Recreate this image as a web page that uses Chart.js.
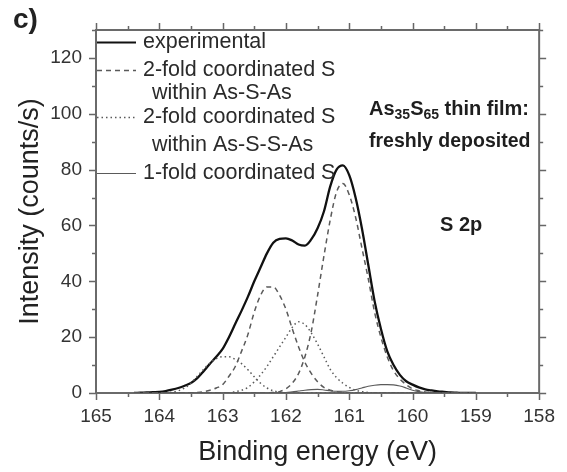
<!DOCTYPE html>
<html>
<head>
<meta charset="utf-8">
<script src="https://cdn.jsdelivr.net/npm/chart.js@4.4.0/dist/chart.umd.min.js"></script>
<style>
  html, body { margin: 0; padding: 0; background: #ffffff; }
  #c { display: block; }
</style>
</head>
<body>
<canvas id="c" width="567" height="472"></canvas>
<script>
// ---- Data ----
const energy = [164.4,164.3,164.2,164.1,164.0,163.9,163.8,163.7,163.6,163.5,163.4,163.3,163.2,163.1,163.0,162.9,162.8,162.7,162.6,162.5,162.4,162.3,162.2,162.1,162.0,161.9,161.8,161.7,161.6,161.5,161.4,161.3,161.2,161.1,161.0,160.9,160.8,160.7,160.6,160.5,160.4,160.3,160.2,160.1,160.0,159.9,159.8,159.7,159.6,159.5,159.4,159.3,159.2,159.1,159.0];

const experimental = [0,0.1,0.2,0.3,0.4,0.7,1.2,1.8,2.6,3.6,5.3,7.8,10.5,13,15.8,20,24.8,29.5,34.5,40,45,50,53.8,55.2,55.4,54.6,53.2,52.8,55,59,65,74,80,81.5,78,70,59,46,33,23,15,10,6.5,4.2,3,2,1.3,0.9,0.6,0.4,0.2,0.1,0,0,0];

// 2-fold coordinated S within As-S-As (dashed doublet)
const asSAsHigh = [0,0,0,0,0,0,0,0,0,0,0.2,0.5,1,1.8,3,6,9.5,15,21,29,35,38,38,35,30,23,16.5,11,7,4,2,1,0.5,0.2,0,0,0,0,0,0,0,0,0,0,0,0,0,0,0,0,0,0,0,0,0];
const asSAsLow  = [0,0,0,0,0,0,0,0,0,0,0,0,0,0,0,0,0,0,0,0,0,0,0.2,0.5,1.5,3.5,7,13,22,35,49,62,72,75,71,63,52,41,29,20,13,8,5,3,1.5,0.8,0.4,0.2,0,0,0,0,0,0,0];

// 2-fold coordinated S within As-S-S-As (dotted doublet)
const asSSAsHigh = [0,0,0,0,0,0,0.3,0.8,1.8,3.5,6,8.5,10.8,12.3,13,13,12,10.5,8.3,5.8,3.5,1.8,0.8,0.3,0,0,0,0,0,0,0,0,0,0,0,0,0,0,0,0,0,0,0,0,0,0,0,0,0,0,0,0,0,0,0];
const asSSAsLow  = [0,0,0,0,0,0,0,0,0,0,0,0,0,0,0,0,0.5,1,2,4,6.5,9.5,13,16.5,20,23.5,25.5,24.5,21.5,17.5,13,8.5,5.5,3.5,2,1,0.5,0.2,0,0,0,0,0,0,0,0,0,0,0,0,0,0,0,0,0];

// 1-fold coordinated S (thin solid)
const oneFold = [0,0,0,0,0,0,0,0,0,0,0,0,0,0,0,0,0,0,0,0,0,0,0,0,0.2,0.4,0.7,1,1.2,1.3,1.1,0.8,0.6,0.6,0.8,1.2,1.8,2.4,2.8,3,3,2.9,2.5,1.8,1,0.5,0.2,0,0,0,0,0,0,0,0];

const xTickValues = [165,164,163,162,161,160,159,158];
const yTickValues = [0,20,40,60,80,100,120];

const legendLabels = [
  ['experimental'],
  ['2-fold coordinated S', 'within As-S-As'],
  ['2-fold coordinated S', 'within As-S-S-As'],
  ['1-fold coordinated S']
];

// ---- Helpers ----
const FONT = '"Liberation Sans", Arial, Helvetica, sans-serif';
const pts = arr => energy.map((e, i) => ({ x: e, y: arr[i] }));
const COMP = '#5a5a5a';

const datasets = [
  { data: pts(asSAsHigh),  borderColor: COMP, borderWidth: 1.5, borderDash: [5, 4] },
  { data: pts(asSAsLow),   borderColor: COMP, borderWidth: 1.5, borderDash: [5, 4] },
  { data: pts(asSSAsHigh), borderColor: COMP, borderWidth: 1.5, borderDash: [1.5, 3] },
  { data: pts(asSSAsLow),  borderColor: COMP, borderWidth: 1.5, borderDash: [1.5, 3] },
  { data: pts(oneFold),    borderColor: COMP, borderWidth: 1.1 },
  { data: pts(experimental), borderColor: '#111', borderWidth: 2.3 }
].map(d => Object.assign({ pointRadius: 0, tension: 0.35, fill: false, cubicInterpolationMode: 'monotone' }, d));

const frame = {
  id: 'frame',
  beforeDatasetsDraw(chart) {
    const { ctx, chartArea: a, scales: { x, y } } = chart;
    ctx.save();
    ctx.strokeStyle = '#666';
    ctx.lineWidth = 1.5;
    ctx.beginPath();
    for (let v = 158; v <= 165.001; v += 0.5) {
      const px = Math.round(x.getPixelForValue(v)) + 0.5;
      const len = Math.abs(v - Math.round(v)) < 1e-6 ? 7 : 4;
      ctx.moveTo(px, a.bottom); ctx.lineTo(px, a.bottom + len);
      ctx.moveTo(px, a.top); ctx.lineTo(px, a.top - len);
    }
    for (let v = 0; v <= 130; v += 10) {
      const py = Math.round(y.getPixelForValue(v)) + 0.5;
      const len = v % 20 === 0 ? 7 : 4;
      ctx.moveTo(a.left, py); ctx.lineTo(a.left - len, py);
      ctx.moveTo(a.right, py); ctx.lineTo(a.right + len, py);
    }
    ctx.stroke();
    ctx.lineWidth = 2;
    ctx.strokeStyle = '#6a6a6a';
    ctx.strokeRect(a.left, a.top, a.right - a.left, a.bottom - a.top);
    ctx.restore();
  },
  afterDraw(chart) {
    const { ctx, chartArea: a } = chart;
    ctx.save();
    // panel letter
    ctx.fillStyle = '#222';
    ctx.textBaseline = 'middle';
    ctx.textAlign = 'left';
    ctx.font = 'bold 28px ' + FONT;
    ctx.fillText('c)', 13, 20);

    // legend
    const rows = [12, 40, 63, 87, 115, 143];
    const styles = [
      { c: '#111', w: 2, d: [] },
      { c: COMP, w: 1.5, d: [5, 4] },
      { c: COMP, w: 1.5, d: [1.5, 3] },
      { c: COMP, w: 1.1, d: [] }
    ];
    const sampleRows = [0, 1, 3, 5];
    ctx.font = '21.5px ' + FONT;
    ctx.fillStyle = '#2a2a2a';
    legendLabels.forEach((lines, i) => {
      const yy = a.top + rows[sampleRows[i]];
      ctx.save();
      ctx.strokeStyle = styles[i].c; ctx.lineWidth = styles[i].w; ctx.setLineDash(styles[i].d);
      ctx.beginPath(); ctx.moveTo(a.left + 1, yy + 0.5); ctx.lineTo(a.left + 40, yy + 0.5); ctx.stroke();
      ctx.restore();
      lines.forEach((t, k) => {
        ctx.fillText(t, a.left + (k === 0 ? 47 : 56), a.top + rows[sampleRows[i] + k]);
      });
    });

    // sample annotation with subscripts
    ctx.fillStyle = '#1e1e1e';
    let xx = 369;
    const y1 = 109;
    const parts = [['As', 20, 0], ['35', 14, 6], ['S', 20, 0], ['65', 14, 6], [' thin film:', 20, 0]];
    parts.forEach(([t, s, dy]) => {
      ctx.font = 'bold ' + s + 'px ' + FONT;
      ctx.fillText(t, xx, y1 + dy);
      xx += ctx.measureText(t).width;
    });
    ctx.font = 'bold 19.5px ' + FONT;
    ctx.fillText('freshly deposited', 369, 142);
    ctx.font = 'bold 20px ' + FONT;
    ctx.fillText('S 2p', 440, 225);
    ctx.restore();
  }
};

new Chart(document.getElementById('c'), {
  type: 'line',
  data: { datasets },
  plugins: [frame],
  options: {
    responsive: false,
    animation: false,
    devicePixelRatio: 1,
    layout: { padding: { left: 0, right: 19, top: 30, bottom: 0 } },
    plugins: { legend: { display: false }, tooltip: { enabled: false } },
    scales: {
      x: {
        type: 'linear', reverse: true, min: 158, max: 165,
        afterBuildTicks: s => { s.ticks = xTickValues.map(v => ({ value: v })); },
        afterFit: s => { s.height = 79; },
        grid: { display: false, drawTicks: false },
        border: { display: false },
        ticks: { padding: 12, maxRotation: 0, autoSkip: false, color: '#333', font: { family: FONT, size: 19 }, callback: v => String(v) },
        title: { display: true, text: 'Binding energy (eV)', color: '#222', font: { family: FONT, size: 27 }, padding: { top: 0, bottom: 3 } }
      },
      y: {
        type: 'linear', min: 0, max: 130,
        afterBuildTicks: s => { s.ticks = yTickValues.map(v => ({ value: v })); },
        afterFit: s => { s.width = 96; },
        grid: { display: false, drawTicks: false },
        border: { display: false },
        ticks: { padding: 14, autoSkip: false, color: '#333', font: { family: FONT, size: 19 }, callback: v => String(v) },
        title: { display: true, text: 'Intensity (counts/s)', color: '#222', font: { family: FONT, size: 27 }, padding: { top: 14, bottom: 0 } }
      }
    }
  }
});
</script>
</body>
</html>
